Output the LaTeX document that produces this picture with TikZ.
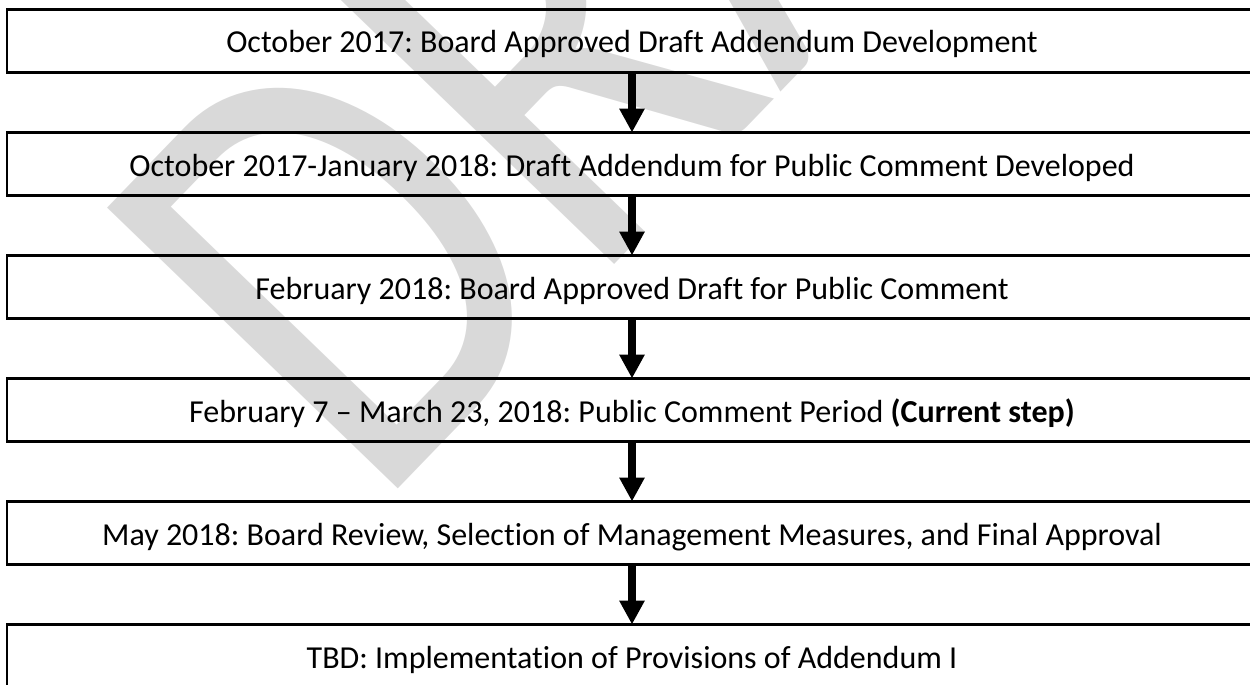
\documentclass[tikz,border=0pt]{standalone}
\usepackage{fontspec}
\setmainfont{Carlito}[Ligatures=NoCommon]
\usetikzlibrary{positioning,arrows.meta}
\definecolor{wm}{HTML}{D9D9D9}
\frenchspacing

\begin{document}
\begin{tikzpicture}[x=0.5pt,y=-0.5pt,line cap=round,
	stepbox/.style={draw,line width=1.35pt,outer sep=0pt,inner sep=0pt,
		minimum width=625pt,minimum height=31.5pt,
		font=\fontsize{16}{18}\selectfont,text height=12pt,text depth=0pt},
	wmark/.style={text=wm,inner sep=0pt,font=\fontsize{315}{315}\selectfont},
	flow/.style={line width=4pt,line cap=butt,-{Triangle[width=12pt,length=12pt]}},
	node distance=30pt]
		\useasboundingbox (0,0) rectangle (1250,685);
		\clip (0,0) rectangle (1250,685);
		% watermark behind the boxes
		\node[wmark,rotate=46,xscale=0.8,anchor=base west] (draft) at (374,514) {DRAFT};
		% steps
		\node[stepbox] (s1) at (632,41) {October 2017: Board Approved Draft Addendum Development};
		\node[stepbox,below=of s1] (s2) {October 2017-January 2018: Draft Addendum for Public Comment Developed};
		\node[stepbox,below=of s2] (s3) {February 2018: Board Approved Draft for Public Comment};
		\node[stepbox,below=of s3] (s4) {February 7 – March 23, 2018: Public Comment Period \textbf{(Current step)}};
		\node[stepbox,below=of s4] (s5) {May 2018: Board Review, Selection of Management Measures, and Final Approval};
		\node[stepbox,below=of s5] (s6) {TBD: Implementation of Provisions of Addendum I};
		\draw[flow] (s1) -- (s2);
		\draw[flow] (s2) -- (s3);
		\draw[flow] (s3) -- (s4);
		\draw[flow] (s4) -- (s5);
		\draw[flow] (s5) -- (s6);
	\end{tikzpicture}
\end{document}
